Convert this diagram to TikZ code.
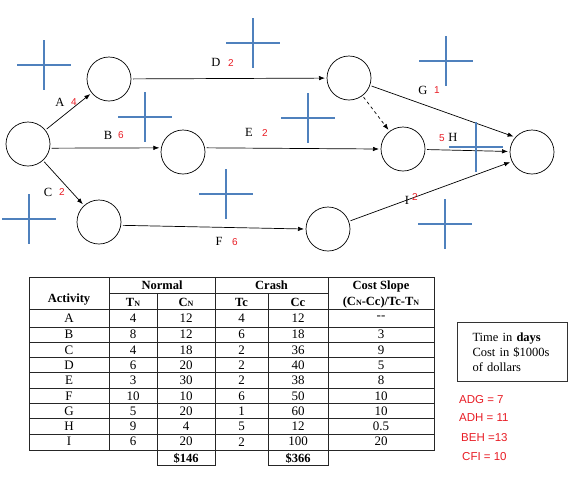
\documentclass[tikz,border=0pt]{standalone}
\usepackage{fontspec}
\setmainfont{Liberation Serif}
\newfontfamily\arialfont{Liberation Sans}
\usetikzlibrary{arrows.meta,positioning}
\definecolor{durred}{RGB}{232,28,36}
\definecolor{crossblue}{RGB}{79,129,189}
\tikzset{
  event/.style={circle, draw=black, line width=0.7pt, minimum size=44pt, inner sep=0pt, outer sep=2pt},
  actname/.style={font=\fontsize{12.5}{14}\selectfont, inner sep=0pt},
  dur/.style={font=\arialfont\fontsize{10}{12}\selectfont, text=durred, inner sep=0pt},
  crossmark/.style={draw=crossblue, line width=2.6pt},
  tab/.style={draw=black!85, line width=0.9pt},
  cell/.style={font=\fontsize{13}{14}\selectfont, inner sep=0pt},
  head/.style={font=\fontsize{12.5}{14}\selectfont\bfseries, inner sep=0pt},
  pathsum/.style={font=\arialfont\fontsize{11.5}{13}\selectfont, text=durred, inner sep=0pt, anchor=west}
}
\newcommand{\subN}{{\footnotesize N}}

\begin{document}
\begin{tikzpicture}[x=1pt, y=-1pt]
  \useasboundingbox (0,0) rectangle (581,480);

  % events
  \node (n1) [event] at (28,144) {};
  \node (n2) [event] at (109,79) {};
  \node (n3) [event] at (183,152) {};
  \node (n4) [event] at (99,222) {};
  \node (n5) [event] at (349,78) {};
  \node (n6) [event] at (403,149) {};
  \node (n7) [event] at (328,229) {};
  \node (n8) [event] at (532,152) {};

  % activities
  \path [-{Latex[length=6pt,width=4.5pt]}, line width=0.7pt]
  (n1) edge node {} (n2)
  (n1.-10) edge node {} (n3.170)
  (n1) edge node {} (n4)
  (n2) edge node {} (n5)
  (n3.10) edge node {} (n6.west)
  (n4.-8) edge node {} (n7.west)
  (n5) edge [dashed] node {} (n6)
  (n5) edge node {} (n8.140)
  (n6) edge node {} (n8)
  (n7) edge node {} (n8.205);

  % activity labels
  \node (la) [actname] at (60,102) {A};   \node (da) [dur] at (74,102) {4};
  \node (lb) [actname] at (108,135) {B};  \node (db) [dur] at (121,135) {6};
  \node (lc) [actname] at (48,192) {C};   \node (dc) [dur] at (62,192) {2};
  \node (ld) [actname] at (216,62) {D};   \node (dd) [dur] at (231,63) {2};
  \node (le) [actname] at (249,132) {E};  \node (de) [dur] at (265,133) {2};
  \node (lf) [actname] at (219,241) {F};  \node (df) [dur] at (235,242) {6};
  \node (lg) [actname] at (423,90) {G};   \node (dg) [dur] at (437,90) {1};
  \node (dh) [dur] at (442,138) {5};      \node (lh) [actname] at (453,137) {H};
  \node (li) [actname] at (407,200) {I};  \node (di) [dur] at (415,197) {2};

  % blue marks
  \foreach \cx/\cy in {44/65, 253/43, 145/117, 226/194, 29/219, 308/118, 446/61, 476/147, 445/224}
    \draw [crossmark] (\cx-27,\cy) -- (\cx+27,\cy) (\cx,\cy-25) -- (\cx,\cy+25);

  % table
  \draw [tab] (29,277) rectangle (434,450);
  \draw [tab] (109,293) -- (328,293);
  \foreach \ly in {309,327,342.3,357.6,372.9,388.2,403.5,418.8,434.1}
    \draw [tab] (29,\ly) -- (434,\ly);
  \draw [tab] (109,277) -- (109,450);
  \draw [tab] (157,293) -- (157,465) -- (215,465) -- (215,277);
  \draw [tab] (268,293) -- (268,465) -- (328,465) -- (328,277);

  \node (hact) [head] at (69,300) {Activity};
  \node (hnorm) [head] at (162,285) {Normal};
  \node (hcrash) [head] at (271.5,285) {Crash};
  \node (hslope) [head] at (381,286) {Cost Slope};
  \node (hslope2) [head] at (381,302) {(C\subN-Cc)/Tc-T\subN};
  \node (htn) [head] at (133,302) {T\subN};
  \node (hcn) [head] at (186,302) {C\subN};
  \node (htc) [head] at (241.5,302) {Tc};
  \node (hcc) [head] at (298,302) {Cc};

  \foreach \a/\tn/\cn/\tc/\cc/\sl [count=\i] in
    {A/4/12/4/12/{-}{-}, B/8/12/6/18/3, C/4/18/2/36/9, D/6/20/2/40/5, E/3/30/2/38/8,
     F/10/10/6/50/10, G/5/20/1/60/10, H/9/4/5/12/0.5, I/6/20/2/100/20} {
    \pgfmathsetmacro\ry{\i==1 ? 318 : 334.6+15.3*(\i-2)}
    \node (act\i) [cell] at (69,\ry) {\a};
    \node (tn\i) [cell] at (133,\ry) {\tn};
    \node (cn\i) [cell] at (186,\ry) {\cn};
    \node (tc\i) [cell] at (241.5,\ry) {\tc};
    \node (cc\i) [cell] at (298,\ry) {\cc};
    \node (sl\i) [cell] at (381,\ry) {\sl};
  }
  \node (sumn) [head] at (186,458) {\$146};
  \node (sumc) [head] at (298,458) {\$366};

  % units note
  \node (units) [draw=black!80, line width=1pt, anchor=north west, minimum width=110pt,
    minimum height=59pt, text width=98pt, inner sep=0pt, align=left,
    font=\fontsize{12.5}{15}\selectfont] at (457,322)
    {\hspace*{9pt}Time in \textbf{days}\\\hspace*{9pt}Cost in \$1000s\\\hspace*{9pt}of dollars};

  % path lengths
  \node (padg) [pathsum] at (459,400) {ADG = 7};
  \node (padh) [pathsum] at (459,418) {ADH = 11};
  \node (pbeh) [pathsum] at (461,438) {BEH =13};
  \node (pcfi) [pathsum] at (462,457) {CFI = 10};
\end{tikzpicture}
\end{document}
